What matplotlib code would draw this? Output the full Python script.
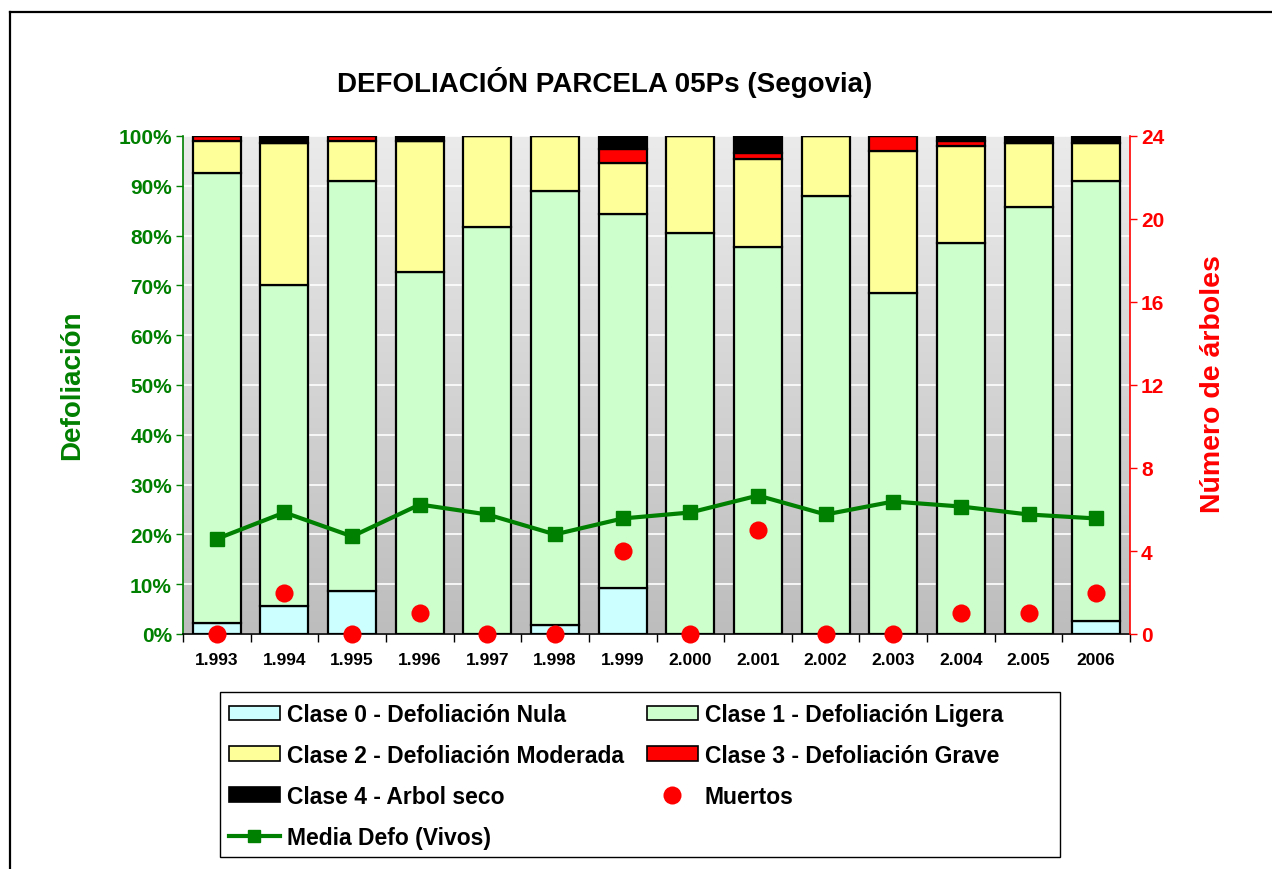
import numpy as np
import matplotlib
matplotlib.use("Agg")
import matplotlib.pyplot as plt
from matplotlib.colors import LinearSegmentedColormap
from matplotlib.patches import Rectangle, Patch
from matplotlib.lines import Line2D

years = ["1.993", "1.994", "1.995", "1.996", "1.997", "1.998", "1.999",
         "2.000", "2.001", "2.002", "2.003", "2.004", "2.005", "2006"]
clase0 = [2.2, 5.6, 8.7, 0.0, 0.0, 1.9, 9.2, 0.0, 0.0, 0.0, 0.0, 0.0, 0.0, 2.7]
clase1 = [90.4, 64.5, 82.3, 72.6, 81.8, 87.1, 75.1, 80.6, 77.8, 87.9, 68.5, 78.6, 85.8, 88.3]
clase2 = [6.4, 28.4, 8.0, 26.4, 18.2, 11.0, 10.3, 19.4, 17.6, 12.1, 28.5, 19.3, 12.7, 7.5]
clase3 = [1.0, 0.0, 1.0, 0.0, 0.0, 0.0, 2.7, 0.0, 1.1, 0.0, 3.0, 1.1, 0.0, 0.0]
clase4 = [0.0, 1.5, 0.0, 1.0, 0.0, 0.0, 2.7, 0.0, 3.5, 0.0, 0.0, 1.0, 1.5, 1.5]
media_defo = [19.1, 24.4, 19.6, 26.0, 24.0, 20.0, 23.2, 24.4, 27.8, 24.0, 26.6, 25.6, 24.0, 23.2]
muertos = [0, 2, 0, 1, 0, 0, 4, 0, 5, 0, 0, 1, 1, 2]

labels = ["Clase 0 - Defoliación Nula", "Clase 1 - Defoliación Ligera",
          "Clase 2 - Defoliación Moderada", "Clase 3 - Defoliación Grave",
          "Clase 4 - Arbol seco", "Muertos", "Media Defo (Vivos)"]
colors = ["#CCFFFF", "#CCFFCC", "#FFFF99", "#FF0000", "#000000"]

plt.rcParams['font.family'] = ['Liberation Sans', 'DejaVu Sans']
plt.rcParams['font.weight'] = 'bold'

W, H = 1272, 870
fig = plt.figure(figsize=(W / 100, H / 100), dpi=100)
fig.patch.set_facecolor("white")

ax = fig.add_axes([183 / W, 1 - 635 / H, (1130 - 183) / W, (635 - 137) / H])
ax.set_facecolor("none")

# gradient background
cmap = LinearSegmentedColormap.from_list("bg", ["#bdbdbd", "#ebebeb"])
grad = np.linspace(0, 1, 256).reshape(-1, 1)
ax.imshow(grad, extent=[0, 1, 0, 1], transform=ax.transAxes, cmap=cmap,
          aspect="auto", origin="lower", zorder=-10)

x = np.arange(len(years))
series = [clase0, clase1, clase2, clase3, clase4]
bottom = np.zeros(len(years))
for vals, c in zip(series, colors):
    v = np.array(vals)
    ax.bar(x, v, bottom=bottom, width=0.71, color=c, edgecolor="black",
           linewidth=1.6, zorder=2)
    bottom += v

ax.plot(x, media_defo, color="#008000", lw=3, marker="s", markersize=9.5,
        zorder=4)

ax.set_xlim(-0.5, len(years) - 0.5)
ax.set_ylim(0, 100)
ax.set_yticks(np.arange(0, 101, 10))
ax.set_yticklabels([f"{v}%" for v in range(0, 101, 10)])
ax.yaxis.grid(True, color="white", lw=1.2, zorder=-5)
ax.set_axisbelow(True)

ax.set_xticks(x)
ax.set_xticklabels(years, fontsize=12.5, fontweight="bold")
ax.set_xticks(np.arange(-0.5, len(years), 1), minor=True)
ax.tick_params(axis="x", which="major", length=0, pad=13)
ax.tick_params(axis="x", which="minor", length=6, width=1, direction="out")
ax.tick_params(axis="y", colors="#008000", labelsize=15, length=5, width=1,
               pad=3)
for t in ax.get_yticklabels():
    t.set_fontweight("bold")
    t.set_color("#008000")

ax.spines["top"].set_visible(False)
ax.spines["right"].set_visible(False)
ax.spines["left"].set_color("#008000")
ax.spines["left"].set_linewidth(1.2)
ax.spines["bottom"].set_color("black")
ax.spines["bottom"].set_linewidth(1.2)

ax2 = ax.twinx()
ax2.set_ylim(0, 24)
ax2.set_yticks(np.arange(0, 25, 4))
ax2.scatter(x, muertos, s=170, color="#FF0000", zorder=5, clip_on=False,
            linewidths=0)
ax2.tick_params(axis="y", colors="#FF0000", labelsize=15, length=5, width=1,
                pad=3)
for t in ax2.get_yticklabels():
    t.set_fontweight("bold")
for s in ["top", "left", "bottom"]:
    ax2.spines[s].set_visible(False)
ax2.spines["right"].set_color("#FF0000")
ax2.spines["right"].set_linewidth(1.2)

# titles and labels
fig.text(605 / W, 1 - 83 / H, "DEFOLIACIÓN PARCELA 05Ps (Segovia)",
         ha="center", va="center", fontsize=20, fontweight="bold")
fig.text(72 / W, 1 - 385 / H, "Defoliación", rotation=90, ha="center",
         va="center", fontsize=20, fontweight="bold", color="#008000")
fig.text(1213 / W, 1 - 384 / H, "Número de árboles", rotation=90,
         ha="center", va="center", fontsize=20.5, fontweight="bold",
         color="#FF0000")

# legend
handles = {
    labels[0]: Patch(facecolor=colors[0], edgecolor="black", lw=1.2),
    labels[1]: Patch(facecolor=colors[1], edgecolor="black", lw=1.2),
    labels[2]: Patch(facecolor=colors[2], edgecolor="black", lw=1.2),
    labels[3]: Patch(facecolor=colors[3], edgecolor="black", lw=1.2),
    labels[4]: Patch(facecolor=colors[4], edgecolor="black", lw=1.2),
    labels[5]: Line2D([], [], ls="none", marker="o", markersize=13,
                      color="#FF0000", markeredgewidth=0),
    labels[6]: Line2D([], [], color="#008000", lw=3, marker="s",
                      markersize=9),
}
order = [labels[0], labels[2], labels[4], labels[6],
         labels[1], labels[3], labels[5]]
fs = 16.5
leg = fig.legend([handles[k] for k in order], order, ncol=2,
                 loc="upper left", bbox_to_anchor=(229 / W, 1 - 704 / H),
                 bbox_transform=fig.transFigure, frameon=False,
                 borderpad=0, borderaxespad=0, fontsize=fs,
                 handlelength=51 / (fs * 100 / 72),
                 handleheight=14 / (fs * 100 / 72),
                 handletextpad=7 / (fs * 100 / 72),
                 columnspacing=1.0, labelspacing=0.78)
for t in leg.get_texts():
    t.set_fontweight("bold")

fig.patches.append(Rectangle((220 / W, 1 - 858 / H), (1060 - 220) / W,
                             (858 - 693) / H, transform=fig.transFigure,
                             fill=False, edgecolor="black", lw=1))

# outer frame (left and top edges)
fig.lines.append(Line2D([9.5 / W, 9.5 / W], [0, 1 - 13 / H],
                        transform=fig.transFigure, color="black", lw=1.6))
fig.lines.append(Line2D([9.5 / W, 1], [1 - 13 / H, 1 - 13 / H],
                        transform=fig.transFigure, color="black", lw=1.6))

fig.savefig("out.png", dpi=100)
